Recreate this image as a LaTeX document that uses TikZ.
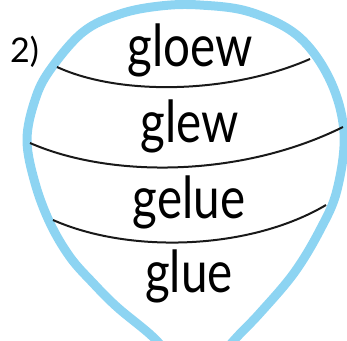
\documentclass[tikz,border=0pt]{standalone}
\usepackage{fontspec}
\setmainfont{Lato}
\newfontfamily\narrowfont[FakeStretch=0.82]{Lato}
\usepackage{xcolor}
\definecolor{balloonblue}{RGB}{141,212,242}
\usetikzlibrary{positioning}

\begin{document}
\begin{tikzpicture}[x=1pt, y=-1pt, word/.style={anchor=base, inner sep=0pt, font=\narrowfont\fontsize{58}{64}\selectfont}, divider/.style={line width=2pt, black!90}]
        \useasboundingbox (0,0) rectangle (347,340);
        \clip (0,0) rectangle (347,340);

        \draw[balloonblue, line width=9pt, line join=round] plot[smooth, tension=0.6] coordinates {(175,362) (153,337) (117,307) (93,283) (70,257) (50,223) (35,183) (27,140) (35,100) (50,70) (83,32) (120,14) (160,6) (200,5) (250,12) (298,36) (330,80) (344,133) (337,190) (320,230) (294,273) (260,313) (237,337) (215,362)};

        \draw[divider] (57,67) .. controls (120,96) and (230,94) .. (310,59);
        \draw[divider] (30,143) .. controls (110,178) and (240,178) .. (343,127);
        \draw[divider] (53,220) .. controls (130,254) and (250,250) .. (326,205);

        \node[anchor=base west, inner sep=0pt, font=\fontsize{34}{40}\selectfont] (NUM) at (10,62) {2)};
        \node[word] (GLOEW) at (190,66) {gloew};
        \node[word] (GLEW) at (190,142) {glew};
        \node[word] (GELUE) at (189,218) {gelue};
        \node[word] (GLUE) at (189,292) {glue};
    \end{tikzpicture}
\end{document}
